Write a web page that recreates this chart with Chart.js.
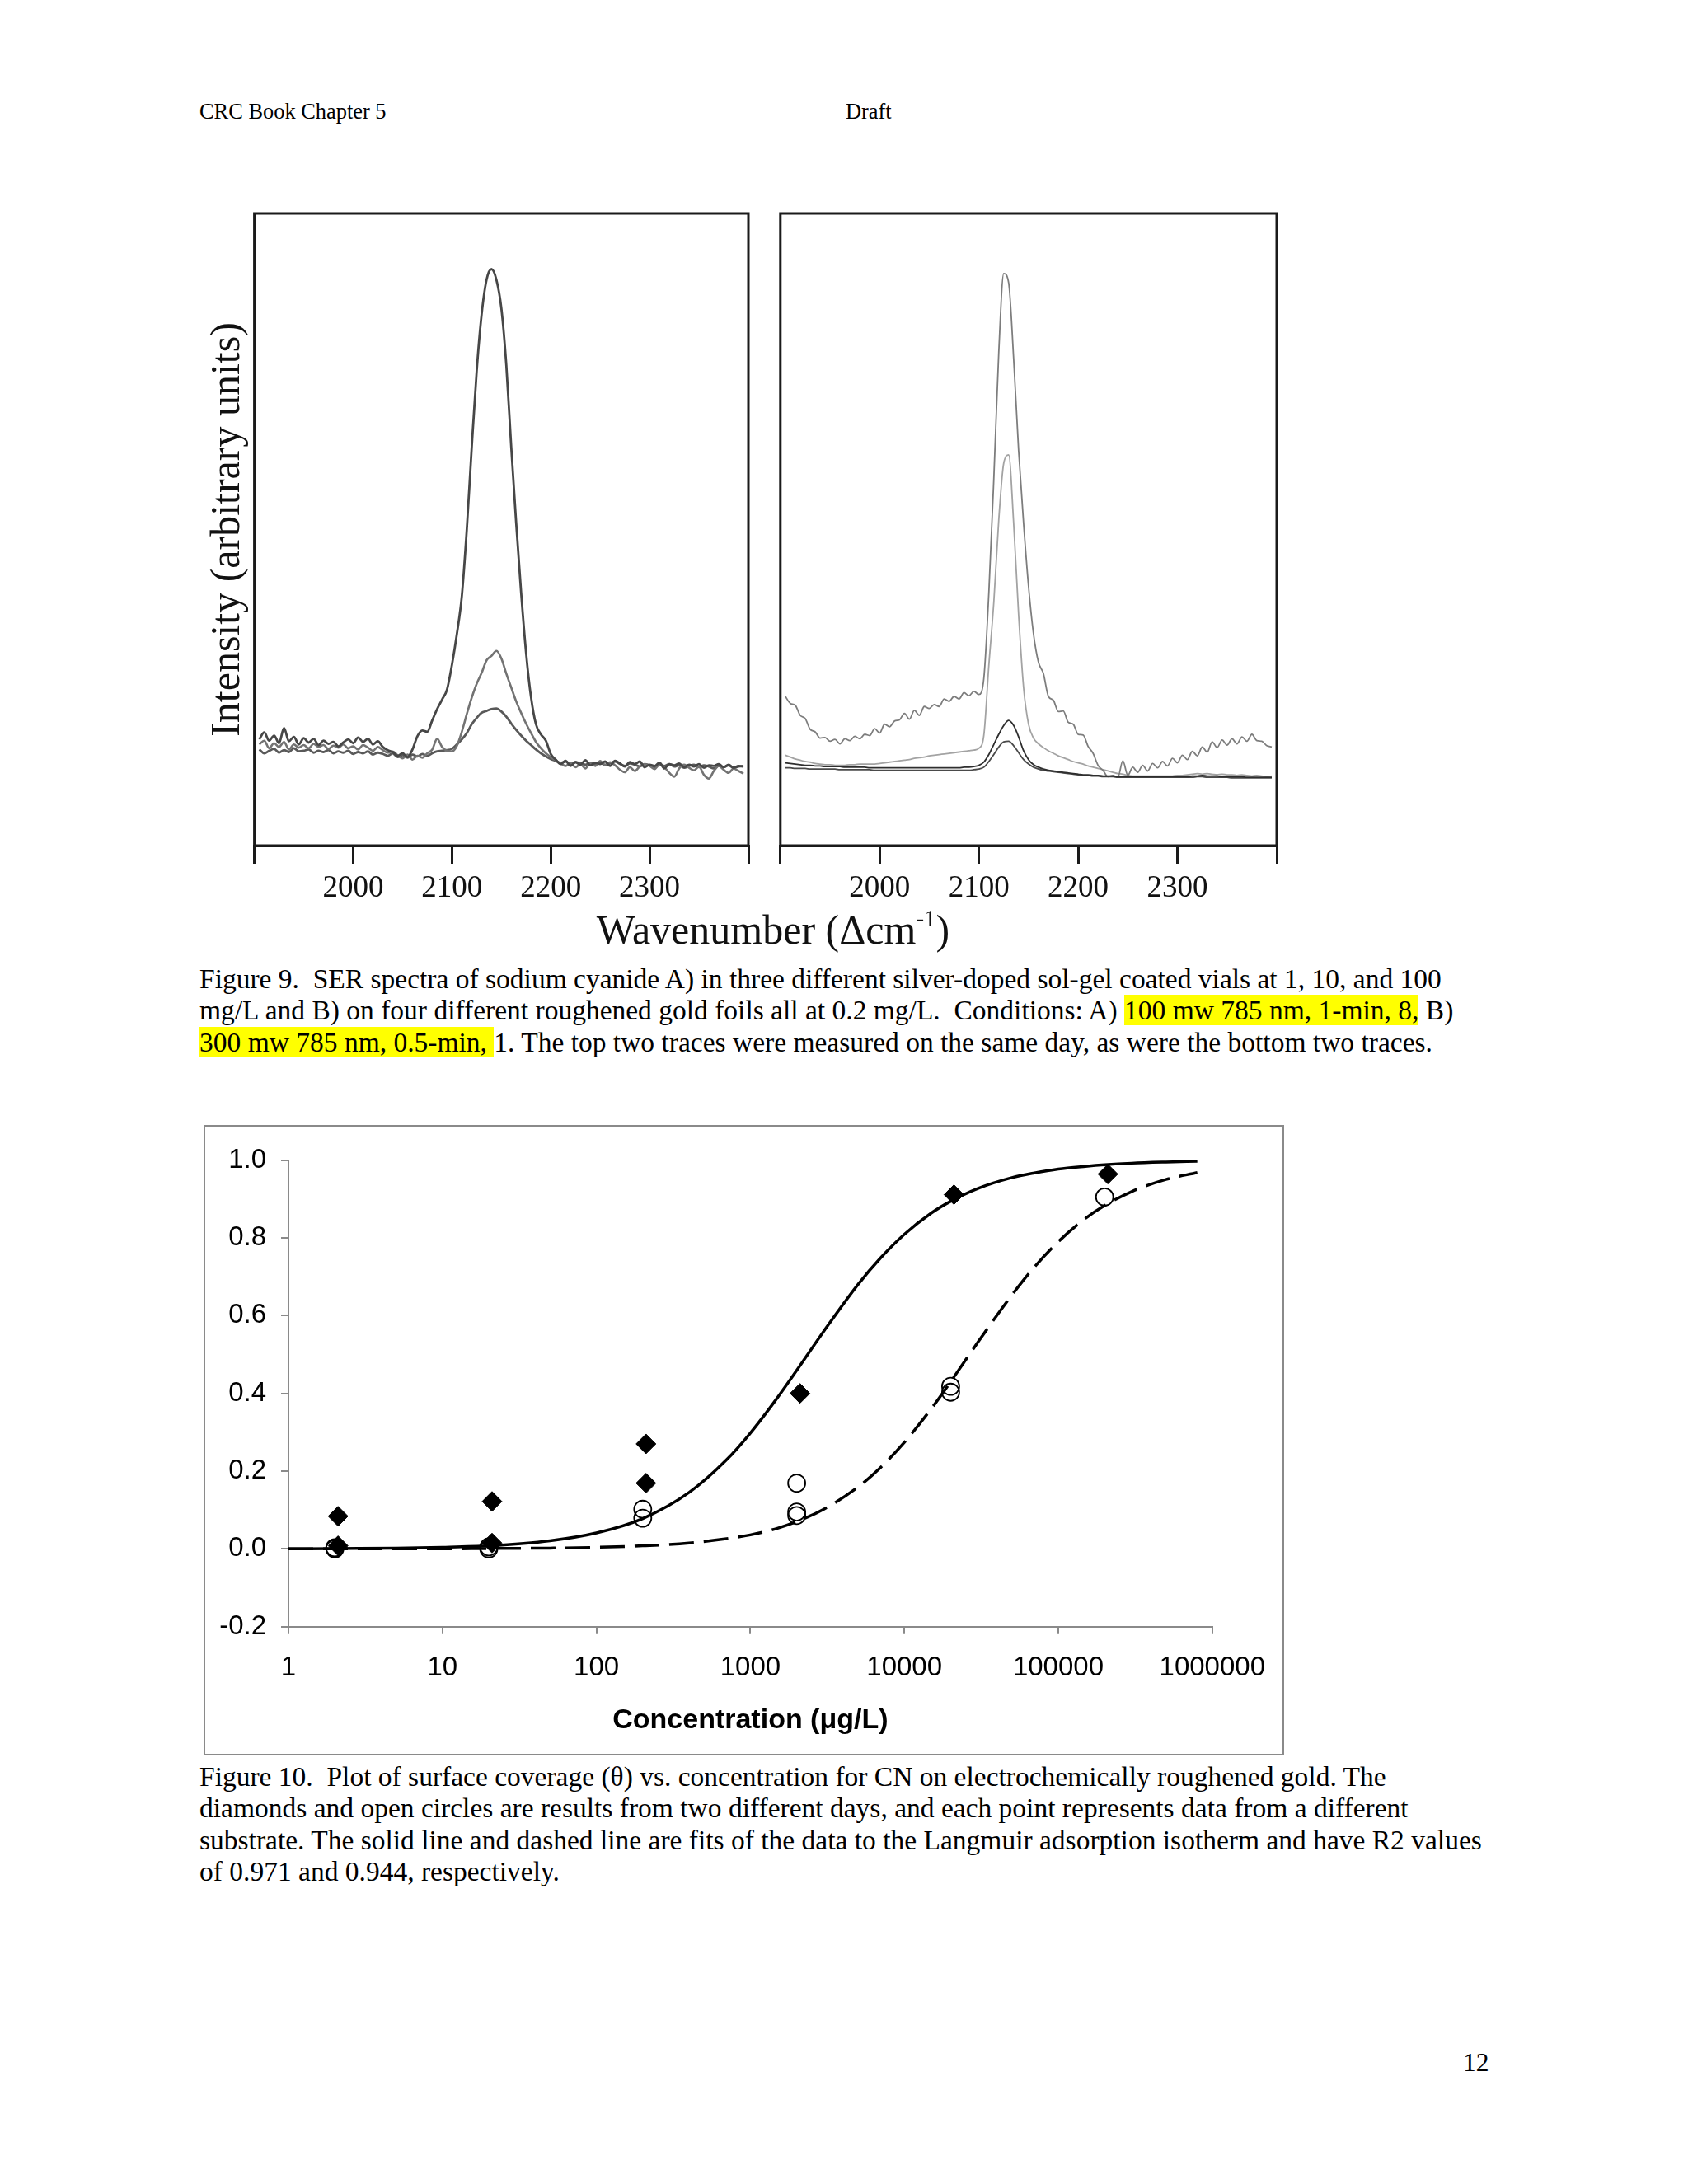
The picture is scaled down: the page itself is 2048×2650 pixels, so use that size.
<!DOCTYPE html>
<html>
<head>
<meta charset="utf-8">
<title>CRC Book Chapter 5 - Figures 9 and 10</title>
<script src="https://cdn.jsdelivr.net/npm/chart.js@4.4.1/dist/chart.umd.min.js"></script>
<style>
  html, body { margin: 0; padding: 0; background: #fff; }
  body {
    width: 2048px; height: 2650px; position: relative; overflow: hidden;
    font-family: 'Liberation Serif', 'Times New Roman', serif; color: #000;
  }
  .abs { position: absolute; }
  .hdr { font-size: 26.4px; line-height: 26px; top: 122px; }
  .caption { left: 242px; font-size: 33.5px; line-height: 38.3px; white-space: nowrap; }
  .hl { background: #ffff00; }
  .xtitle9 { left: 638px; width: 600px; top: 1098px; text-align: center; font-size: 50px; line-height: 60px; color: #111; }
  .xtitle9 sup { font-size: 29px; vertical-align: 21px; line-height: 0; }
  .frame10 { left: 247px; top: 1365px; width: 1311px; height: 765px; box-sizing: border-box; border: 2px solid #8a8a8a; }
  canvas { position: absolute; }
</style>
</head>
<body>

<div class="abs hdr" style="left:242px;">CRC Book Chapter 5</div>
<div class="abs hdr" style="left:1026px;">Draft</div>

<canvas id="spectraA" width="720" height="900" style="left:200px; top:240px;"></canvas>
<canvas id="spectraB" width="720" height="900" style="left:900px; top:240px;"></canvas>
<div class="abs xtitle9">Wavenumber (&Delta;cm<sup>-1</sup>)</div>

<div class="abs caption" style="top:1169px;">
Figure 9.&nbsp; SER spectra of sodium cyanide A) in three different silver-doped sol-gel coated vials at 1, 10, and 100<br>
mg/L and B) on four different roughened gold foils all at 0.2 mg/L.&nbsp; Conditions: A) <span class="hl">100 mw 785 nm, 1-min, 8,</span> B)<br>
<span class="hl">300 mw 785 nm, 0.5-min, </span>1. The top two traces were measured on the same day, as were the bottom two traces.
</div>

<div class="abs frame10"></div>
<canvas id="coverage" width="1309" height="762" style="left:247px; top:1365px;"></canvas>

<div class="abs caption" style="top:2137px;">
Figure 10.&nbsp; Plot of surface coverage (&theta;) vs. concentration for CN on electrochemically roughened gold. The<br>
diamonds and open circles are results from two different days, and each point represents data from a different<br>
substrate. The solid line and dashed line are fits of the data to the Langmuir adsorption isotherm and have R2 values<br>
of 0.971 and 0.944, respectively.
</div>

<div class="abs" style="left:1775px; top:2484px; font-size:31.5px; line-height:38px;">12</div>

<script>
// ---- Figure 9 data (wavenumber, arbitrary intensity 0-100) ----
const wavenumbers = [
  1905, 1910, 1915, 1920, 1925, 1930, 1935, 1940, 1945, 1950,
  1955, 1960, 1965, 1970, 1975, 1980, 1985, 1990, 1995, 2000,
  2005, 2010, 2015, 2020, 2025, 2030, 2035, 2040, 2045, 2050,
  2055, 2060, 2065, 2070, 2075, 2080, 2085, 2090, 2095, 2100,
  2105, 2110, 2115, 2120, 2125, 2130, 2135, 2140, 2145, 2150,
  2155, 2160, 2165, 2170, 2175, 2180, 2185, 2190, 2195, 2200,
  2205, 2210, 2215, 2220, 2225, 2230, 2235, 2240, 2245, 2250,
  2255, 2260, 2265, 2270, 2275, 2280, 2285, 2290, 2295, 2300,
  2305, 2310, 2315, 2320, 2325, 2330, 2335, 2340, 2345, 2350,
  2355, 2360, 2365, 2370, 2375, 2380, 2385, 2390, 2395
];
const wnTicks = [1900, 2000, 2100, 2200, 2300, 2400];
const wnTickLabels = ['', '2000', '2100', '2200', '2300', ''];

// panel A: sol-gel vials (100, 10, 1 mg/L)
const vial100 = [
  16.8, 17.9, 16.6, 17.4, 16.2, 18.6, 16.5, 17.2, 16.0, 17.0,
  16.3, 16.9, 15.9, 16.6, 16.1, 16.4, 15.7, 16.3, 16.8, 16.2,
  17.1, 16.4, 16.9, 16.0, 16.5, 15.6, 15.1, 14.8, 14.2, 14.6,
  14.0, 15.2, 17.3, 18.2, 18.0, 19.8, 21.6, 23.1, 24.7, 28.6,
  33.5, 39.5, 50.0, 63.0, 75.0, 84.0, 89.5, 91.2, 89.5, 85.0,
  76.0, 63.0, 51.0, 40.0, 30.5, 23.5, 19.2, 17.6, 16.6, 14.5,
  13.6, 12.9, 13.4, 12.6, 13.2, 12.8, 13.5, 12.7, 13.1, 12.9,
  13.3, 12.6, 13.4, 13.0, 12.5, 13.2, 12.9, 13.3, 12.4, 12.8,
  12.6, 13.1, 12.2, 12.9, 12.7, 13.0, 12.4, 12.8, 12.5, 12.9,
  12.3, 12.7, 12.6, 12.9, 12.4, 12.8, 12.3, 12.6, 12.5
];
const vial10 = [
  16.0, 16.6, 15.4, 16.2, 15.6, 16.4, 15.2, 16.0, 15.5, 15.9,
  15.4, 16.1, 15.6, 15.9, 15.3, 15.8, 15.5, 16.0, 15.4, 15.7,
  15.2, 15.9, 15.5, 15.0, 15.6, 15.1, 14.7, 14.9, 14.3, 13.8,
  14.4, 13.6, 14.2, 13.9, 14.6, 15.2, 16.9, 15.6, 15.0, 14.9,
  15.8, 18.0, 20.8, 23.4, 25.6, 27.3, 29.3, 30.0, 30.8, 29.6,
  27.2, 25.0, 22.8, 21.0, 19.3, 17.8, 16.4, 15.4, 14.6, 14.0,
  13.5, 13.0, 12.6, 13.1, 12.4, 12.9, 12.2, 13.0, 12.6, 13.4,
  12.8, 13.2, 12.7, 12.0, 11.6, 12.4, 11.8, 12.5, 12.9, 12.6,
  12.1, 12.8, 12.4, 11.5, 10.9, 12.2, 12.8, 12.3, 11.9, 12.5,
  11.2, 10.6, 11.8, 12.6, 12.0, 11.5, 12.2, 11.8, 11.4
];
const vial1 = [
  15.2, 14.6, 15.0, 15.3, 14.7, 15.1, 14.8, 15.4, 14.9, 15.0,
  15.2, 14.7, 15.0, 14.8, 15.1, 14.6, 14.9, 14.7, 15.0, 14.5,
  14.8, 14.6, 14.9, 14.4, 14.7, 14.5, 14.2, 14.6, 14.0, 14.3,
  13.9, 14.4, 14.1, 14.5, 14.2, 14.6, 14.9, 15.0, 15.1, 15.3,
  16.0, 16.8, 17.8, 19.2, 20.2, 21.0, 21.3, 21.6, 21.7, 21.2,
  20.4, 19.3, 18.3, 17.4, 16.6, 15.9, 15.2, 14.6, 14.1, 13.7,
  13.4, 13.1, 13.3, 12.9, 13.2, 13.0, 12.8, 13.1, 12.9, 13.2,
  12.7, 13.0, 13.3, 12.9, 12.6, 13.0, 12.8, 12.5, 12.9, 12.7,
  12.4, 12.8, 12.6, 12.9, 12.5, 12.7, 12.3, 12.6, 12.8, 12.4,
  12.7, 12.5, 12.2, 12.6, 12.4, 12.7, 12.3, 12.5, 12.6
];

// panel B: four roughened gold foils at 0.2 mg/L
const foil1 = [
  23.6, 22.5, 22.2, 20.6, 20.1, 18.4, 18.0, 17.0, 17.1, 16.5,
  16.8, 16.1, 16.9, 16.6, 17.3, 16.9, 17.6, 17.4, 18.5, 17.8,
  19.2, 18.8, 19.7, 19.9, 20.9, 20.0, 21.4, 20.6, 22.0, 21.7,
  22.3, 22.0, 23.2, 22.8, 23.6, 23.2, 24.2, 23.7, 24.4, 23.9,
  26.5, 40.0, 58.0, 78.0, 90.5, 89.0, 77.0, 62.5, 51.0, 41.0,
  33.5, 29.0, 27.2, 23.6, 23.0, 21.2, 21.3, 19.5, 19.2, 17.6,
  17.5, 15.7, 14.6, 12.7, 11.9, 10.9, 11.1, 10.8, 13.4, 11.1,
  12.4, 11.6, 12.7, 11.8, 13.0, 12.3, 13.3, 12.6, 13.8, 13.1,
  14.3, 13.6, 14.9, 14.2, 15.6, 14.8, 16.4, 15.5, 16.7, 15.9,
  16.9, 16.1, 17.2, 16.5, 17.6, 16.6, 16.5, 15.8, 15.6
];
const foil2 = [
  14.3, 14.0, 13.7, 13.5, 13.3, 13.2, 13.0, 12.9, 12.8, 12.8,
  12.7, 12.7, 12.7, 12.8, 12.8, 12.9, 12.9, 12.9, 12.9, 13.0,
  13.1, 13.2, 13.3, 13.4, 13.5, 13.6, 13.8, 13.9, 14.0, 14.2,
  14.3, 14.4, 14.5, 14.6, 14.7, 14.8, 14.9, 15.0, 15.1, 15.4,
  17.5, 28.5, 38.5, 51.5, 60.5, 61.8, 51.0, 36.5, 25.0, 19.2,
  17.0, 16.1, 15.5, 15.0, 14.6, 14.2, 13.9, 13.6, 13.3, 13.1,
  12.9, 12.6, 12.4, 12.2, 12.0, 11.8, 11.6, 11.4, 11.3, 11.1,
  11.0, 11.0, 11.0, 11.0, 11.0, 11.0, 11.0, 11.0, 11.0, 11.1,
  11.1, 11.2, 11.3, 11.4, 11.3, 11.4, 11.3, 11.2, 11.3, 11.2,
  11.2, 11.1, 11.2, 11.1, 11.0, 11.1, 11.0, 10.9, 11.0
];
const foil3 = [
  13.1, 13.0, 12.9, 12.8, 12.7, 12.7, 12.6, 12.6, 12.5, 12.5,
  12.5, 12.5, 12.4, 12.4, 12.4, 12.4, 12.4, 12.3, 12.3, 12.3,
  12.3, 12.3, 12.3, 12.3, 12.3, 12.3, 12.3, 12.3, 12.3, 12.3,
  12.3, 12.3, 12.3, 12.3, 12.3, 12.3, 12.4, 12.4, 12.5, 12.7,
  13.2, 14.4, 16.0, 17.6, 19.0, 19.8, 19.0, 17.2, 15.0, 13.6,
  12.8, 12.4, 12.1, 11.9, 11.8, 11.7, 11.6, 11.5, 11.4, 11.3,
  11.2, 11.2, 11.1, 11.1, 11.0, 11.0, 11.0, 10.9, 10.9, 10.9,
  10.9, 10.9, 10.9, 10.9, 10.9, 10.9, 10.9, 10.9, 10.9, 10.9,
  10.9, 10.9, 11.0, 11.0, 11.1, 11.0, 11.0, 11.0, 10.9, 10.9,
  10.9, 10.9, 10.9, 10.8, 10.8, 10.8, 10.8, 10.8, 10.8
];
const foil4 = [
  12.3, 12.3, 12.2, 12.2, 12.2, 12.1, 12.1, 12.1, 12.1, 12.1,
  12.1, 12.0, 12.0, 12.0, 12.0, 12.0, 12.0, 12.0, 11.9, 11.9,
  11.9, 11.9, 11.9, 11.9, 11.9, 11.9, 11.9, 11.9, 11.9, 11.9,
  11.9, 11.9, 11.9, 11.9, 11.9, 11.9, 11.9, 11.9, 12.0, 12.1,
  12.4, 13.3, 14.4, 15.6, 16.4, 16.5, 15.8, 14.7, 13.6, 12.9,
  12.4, 12.1, 11.9, 11.8, 11.7, 11.6, 11.5, 11.4, 11.3, 11.2,
  11.1, 11.1, 11.0, 11.0, 10.9, 10.9, 10.9, 10.8, 10.8, 10.8,
  10.8, 10.8, 10.8, 10.8, 10.8, 10.8, 10.8, 10.8, 10.8, 10.8,
  10.8, 10.8, 10.8, 10.9, 10.9, 10.8, 10.8, 10.8, 10.8, 10.8,
  10.7, 10.7, 10.7, 10.7, 10.7, 10.7, 10.7, 10.7, 10.7
];

// ---- Figure 10 data ----
const concTicks = [1, 10, 100, 1000, 10000, 100000, 1000000];
const concTickLabels = ['1', '10', '100', '1000', '10000', '100000', '1000000'];
const thetaTicks = [-0.2, 0, 0.2, 0.4, 0.6, 0.8, 1.0];
const thetaTickLabels = ['-0.2', '0.0', '0.2', '0.4', '0.6', '0.8', '1.0'];

const day1Conc  = [2.1, 2.1, 21, 21, 210, 210, 2100, 21000, 210000];
const day1Theta = [0.084, 0.008, 0.122, 0.015, 0.270, 0.169, 0.400, 0.911, 0.964];
const day2Conc  = [2, 2, 20, 20, 200, 200, 2000, 2000, 2000, 20000, 20000, 200000];
const day2Theta = [0.000, 0.003, 0.000, 0.005, 0.102, 0.079, 0.169, 0.095, 0.086, 0.418, 0.403, 0.905];

const fitConc = [1, 2, 5, 10, 20, 50, 100, 200, 400, 700, 1000, 1500, 2000, 3000,
  5000, 7000, 10000, 15000, 20000, 30000, 50000, 70000, 100000, 150000, 200000, 300000, 500000, 800000];
const fitDay1 = [0.000, 0.001, 0.002, 0.004, 0.008, 0.021, 0.041, 0.078, 0.145, 0.229, 0.298, 0.389, 0.459, 0.560,
  0.680, 0.748, 0.809, 0.864, 0.894, 0.927, 0.955, 0.967, 0.977, 0.984, 0.988, 0.992, 0.995, 0.997];
const fitDay2 = [0.000, 0.000, 0.000, 0.000, 0.001, 0.002, 0.004, 0.008, 0.015, 0.026, 0.036, 0.053, 0.070, 0.102,
  0.159, 0.209, 0.274, 0.361, 0.430, 0.531, 0.653, 0.725, 0.790, 0.850, 0.883, 0.919, 0.950, 0.968];

// pair up x and y arrays for chart.js
const toPoints = (xs, ys) => xs.map((x, i) => ({ x: x, y: ys[i] }));

// draws the dark box around a spectrum panel
const frameBox = {
  id: 'frameBox',
  afterDraw(chart) {
    const { ctx, chartArea: a } = chart;
    ctx.save();
    ctx.strokeStyle = '#1a1a1a';
    ctx.lineWidth = 3;
    ctx.strokeRect(a.left, a.top, a.right - a.left, a.bottom - a.top);
    ctx.restore();
  }
};

function spectrumDataset(values, color, width) {
  return {
    data: toPoints(wavenumbers, values),
    borderColor: color,
    borderWidth: width,
    pointRadius: 0,
    fill: false,
    cubicInterpolationMode: 'monotone'
  };
}

function wavenumberAxis() {
  return {
    type: 'linear',
    min: 1900,
    max: 2400,
    afterBuildTicks: (scale) => { scale.ticks = wnTicks.map(v => ({ value: v })); },
    afterFit: (scale) => { scale.height = 114; },
    grid: {
      drawOnChartArea: false,
      drawTicks: true,
      tickLength: 22,
      color: '#1a1a1a',
      lineWidth: 3
    },
    border: { display: true, color: '#1a1a1a', width: 3 },
    ticks: {
      color: '#111',
      padding: 8,
      maxRotation: 0,
      autoSkip: false,
      font: { family: 'Liberation Serif', size: 37 },
      callback: (v, i) => wnTickLabels[i]
    }
  };
}

Chart.defaults.animation = false;
Chart.defaults.plugins.legend.display = false;
Chart.defaults.plugins.tooltip.enabled = false;

new Chart(document.getElementById('spectraA'), {
  type: 'line',
  data: {
    datasets: [
      spectrumDataset(vial100, '#474747', 2.8),
      spectrumDataset(vial10, '#737373', 2.6),
      spectrumDataset(vial1, '#595959', 2.8)
    ]
  },
  options: {
    responsive: false,
    devicePixelRatio: 1,
    layout: { padding: { left: 0, top: 19, right: 12, bottom: 0 } },
    scales: {
      x: wavenumberAxis(),
      y: {
        min: 0,
        max: 100,
        afterFit: (scale) => { scale.width = 108.6; },
        ticks: { display: false },
        grid: { display: false },
        border: { display: false },
        title: {
          display: true,
          text: 'Intensity (arbitrary units)',
          color: '#111',
          font: { family: 'Liberation Serif', size: 50 },
          padding: { top: 47, bottom: 0 }
        }
      }
    }
  },
  plugins: [frameBox]
});

new Chart(document.getElementById('spectraB'), {
  type: 'line',
  data: {
    datasets: [
      spectrumDataset(foil3, '#2e2e2e', 1.8),
      spectrumDataset(foil4, '#4a4a4a', 1.8),
      spectrumDataset(foil1, '#7d7d7d', 1.8),
      spectrumDataset(foil2, '#a3a3a3', 1.8)
    ]
  },
  options: {
    responsive: false,
    devicePixelRatio: 1,
    layout: { padding: { left: 46.8, top: 19, right: 71, bottom: 0 } },
    scales: {
      x: wavenumberAxis(),
      y: { min: 0, max: 100, display: false }
    }
  },
  plugins: [frameBox]
});

new Chart(document.getElementById('coverage'), {
  type: 'scatter',
  data: {
    datasets: [
      {
        label: 'Day 1',
        data: toPoints(day1Conc, day1Theta),
        pointStyle: 'rectRot',
        pointRadius: 12,
        backgroundColor: '#000',
        borderColor: '#000',
        borderWidth: 1
      },
      {
        label: 'Day 2',
        data: toPoints(day2Conc, day2Theta),
        pointStyle: 'circle',
        pointRadius: 10.5,
        backgroundColor: 'rgba(255,255,255,0)',
        borderColor: '#000',
        borderWidth: 1.8
      },
      {
        label: 'Langmuir fit day 1',
        data: toPoints(fitConc, fitDay1),
        showLine: true,
        pointRadius: 0,
        borderColor: '#000',
        borderWidth: 3.5,
        cubicInterpolationMode: 'monotone'
      },
      {
        label: 'Langmuir fit day 2',
        data: toPoints(fitConc, fitDay2),
        showLine: true,
        pointRadius: 0,
        borderColor: '#000',
        borderWidth: 3.5,
        borderDash: [30, 12],
        cubicInterpolationMode: 'monotone'
      }
    ]
  },
  options: {
    responsive: false,
    devicePixelRatio: 1,
    layout: { padding: { left: 0, top: 42.6, right: 81, bottom: 0 } },
    scales: {
      x: {
        type: 'logarithmic',
        min: 1,
        max: 1000000,
        afterBuildTicks: (scale) => { scale.ticks = concTicks.map(v => ({ value: v })); },
        afterFit: (scale) => { scale.height = 153.3; },
        grid: { drawOnChartArea: false, drawTicks: true, tickLength: 9, color: '#8a8a8a', lineWidth: 2 },
        border: { display: true, color: '#8a8a8a', width: 2 },
        ticks: {
          color: '#000',
          padding: 21,
          maxRotation: 0,
          autoSkip: false,
          font: { family: 'Liberation Sans', size: 33 },
          callback: (v, i) => concTickLabels[i]
        },
        title: {
          display: true,
          text: 'Concentration (\u03bcg/L)',
          color: '#000',
          font: { family: 'Liberation Sans', size: 34, weight: 'bold' },
          padding: { top: 0, bottom: 18.5 }
        }
      },
      y: {
        min: -0.2,
        max: 1.0,
        afterBuildTicks: (scale) => { scale.ticks = thetaTicks.map(v => ({ value: v })); },
        afterFit: (scale) => { scale.width = 103; },
        grid: { drawOnChartArea: false, drawTicks: true, tickLength: 9, color: '#8a8a8a', lineWidth: 2 },
        border: { display: true, color: '#8a8a8a', width: 2 },
        ticks: {
          color: '#000',
          padding: 18,
          font: { family: 'Liberation Sans', size: 33 },
          callback: (v, i) => thetaTickLabels[i]
        }
      }
    }
  }
});
</script>
</body>
</html>
